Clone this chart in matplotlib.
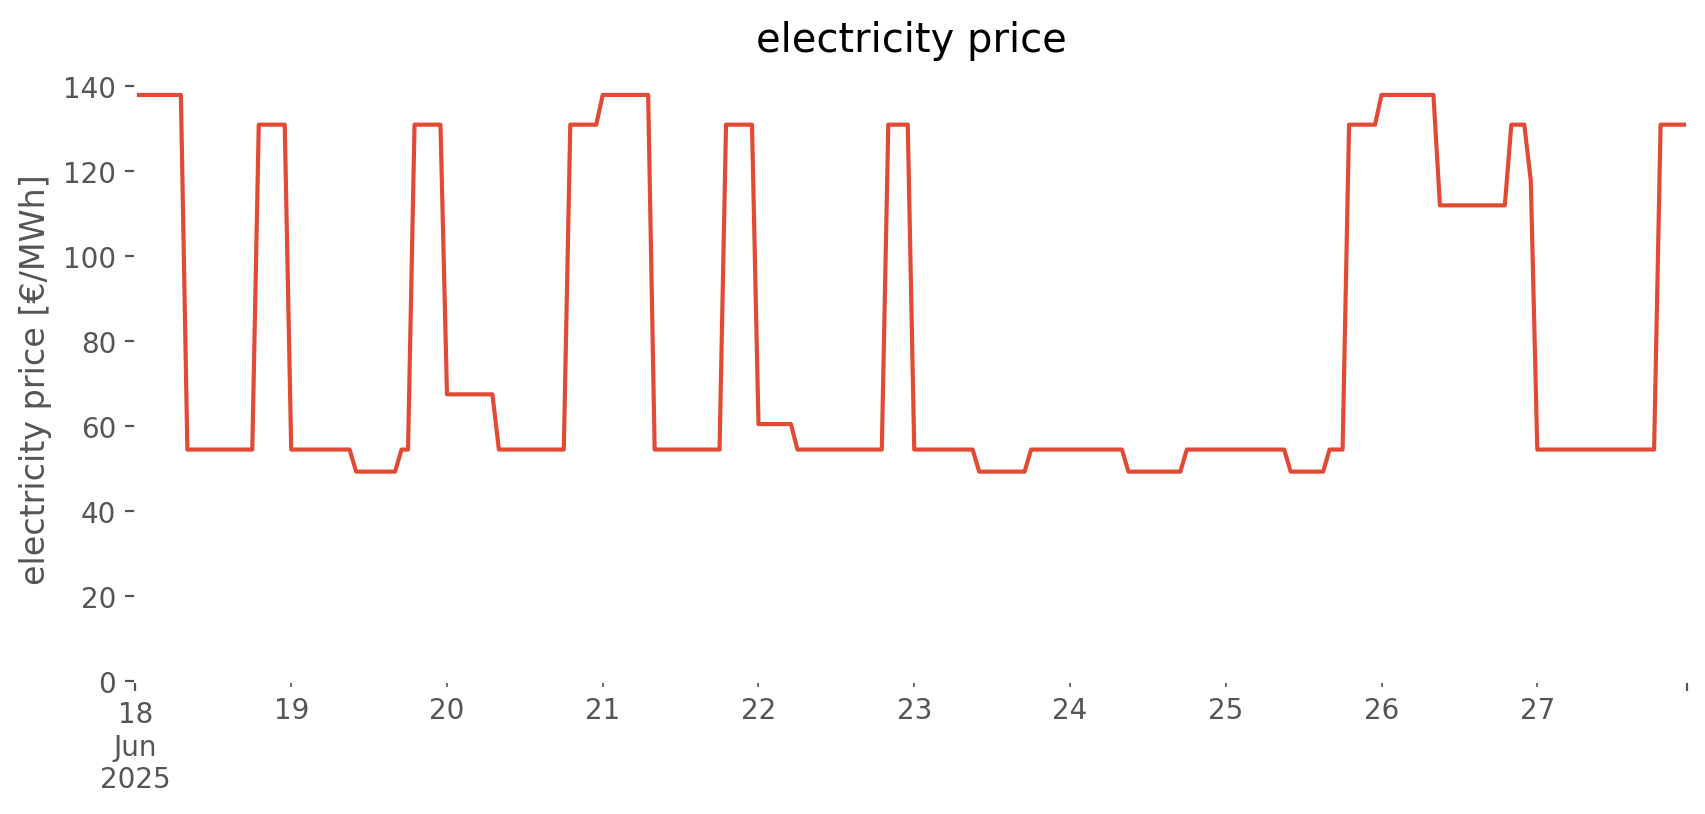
import matplotlib
matplotlib.use("Agg")
import matplotlib.pyplot as plt
import pandas as pd

# hourly price, one row per day (00:00 .. 23:00)
day_18 = [138.0, 138.0, 138.0, 138.0, 138.0, 138.0, 138.0, 138.0, 54.5, 54.5, 54.5, 54.5,
          54.5, 54.5, 54.5, 54.5, 54.5, 54.5, 54.5, 131.0, 131.0, 131.0, 131.0, 131.0]
day_19 = [54.5, 54.5, 54.5, 54.5, 54.5, 54.5, 54.5, 54.5, 54.5, 54.5, 49.3, 49.3,
          49.3, 49.3, 49.3, 49.3, 49.3, 54.5, 54.5, 131.0, 131.0, 131.0, 131.0, 131.0]
day_20 = [67.5, 67.5, 67.5, 67.5, 67.5, 67.5, 67.5, 67.5, 54.5, 54.5, 54.5, 54.5,
          54.5, 54.5, 54.5, 54.5, 54.5, 54.5, 54.5, 131.0, 131.0, 131.0, 131.0, 131.0]
day_21 = [138.0, 138.0, 138.0, 138.0, 138.0, 138.0, 138.0, 138.0, 54.5, 54.5, 54.5, 54.5,
          54.5, 54.5, 54.5, 54.5, 54.5, 54.5, 54.5, 131.0, 131.0, 131.0, 131.0, 131.0]
day_22 = [60.5, 60.5, 60.5, 60.5, 60.5, 60.5, 54.5, 54.5, 54.5, 54.5, 54.5, 54.5,
          54.5, 54.5, 54.5, 54.5, 54.5, 54.5, 54.5, 54.5, 131.0, 131.0, 131.0, 131.0]
day_23 = [54.5, 54.5, 54.5, 54.5, 54.5, 54.5, 54.5, 54.5, 54.5, 54.5, 49.3, 49.3,
          49.3, 49.3, 49.3, 49.3, 49.3, 49.3, 54.5, 54.5, 54.5, 54.5, 54.5, 54.5]
day_24 = [54.5, 54.5, 54.5, 54.5, 54.5, 54.5, 54.5, 54.5, 54.5, 49.3, 49.3, 49.3,
          49.3, 49.3, 49.3, 49.3, 49.3, 49.3, 54.5, 54.5, 54.5, 54.5, 54.5, 54.5]
day_25 = [54.5, 54.5, 54.5, 54.5, 54.5, 54.5, 54.5, 54.5, 54.5, 54.5, 49.3, 49.3,
          49.3, 49.3, 49.3, 49.3, 54.5, 54.5, 54.5, 131.0, 131.0, 131.0, 131.0, 131.0]
day_26 = [138.0, 138.0, 138.0, 138.0, 138.0, 138.0, 138.0, 138.0, 138.0, 112.0, 112.0, 112.0,
          112.0, 112.0, 112.0, 112.0, 112.0, 112.0, 112.0, 112.0, 131.0, 131.0, 131.0, 117.8]
day_27 = [54.5, 54.5, 54.5, 54.5, 54.5, 54.5, 54.5, 54.5, 54.5, 54.5, 54.5, 54.5,
          54.5, 54.5, 54.5, 54.5, 54.5, 54.5, 54.5, 131.0, 131.0, 131.0, 131.0, 131.0]

days = [day_18, day_19, day_20, day_21, day_22, day_23, day_24, day_25, day_26, day_27]
prices = [p for day in days for p in day]

plt.style.use("ggplot")

index = pd.date_range("2025-06-18", periods=len(prices), freq="h")
price = pd.Series(prices, index=index, name="electricity price")

fig, ax = plt.subplots(figsize=(1706 / 200, 814.9 / 200), dpi=200)
price.plot(ax=ax, color="#E24A33", linewidth=1.5)
ax.set_facecolor("white")
ax.grid(False)
ax.set_ylim(bottom=0)
ax.set_xlabel("")
ax.set_ylabel("electricity price [€/MWh]")
ax.set_title("electricity price", pad=9)

fig.subplots_adjust(left=0.0794, right=0.9886, bottom=0.1632, top=0.9055)
fig.savefig("out.png", dpi=200)
